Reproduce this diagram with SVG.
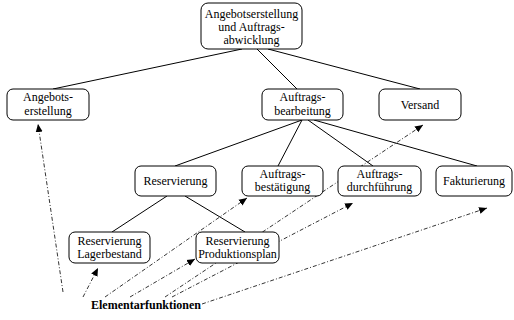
<svg xmlns="http://www.w3.org/2000/svg" width="514" height="320" viewBox="0 0 514 320" font-family="Liberation Serif, Times New Roman, serif">
<defs>
<style>
.box{fill:#fff;stroke:#000;stroke-width:1}
.t{font-size:12px;text-anchor:middle;fill:#000}
.e{stroke:#000;stroke-width:1;fill:none}
.d{stroke:#000;stroke-width:0.8;fill:none;stroke-dasharray:4 2 1 2;marker-end:url(#ah)}
</style>
<marker id="ah" markerUnits="userSpaceOnUse" markerWidth="9" markerHeight="8" refX="8" refY="4" orient="auto">
<path d="M0,0.5 L8,4 L0,7.5 Z" fill="#000"/>
</marker>
</defs>
<g id="connectors">
<line class="e" x1="242" y1="49" x2="53" y2="89"/>
<line class="e" x1="257" y1="49" x2="297" y2="89"/>
<line class="e" x1="268" y1="49" x2="420" y2="89"/>
<line class="e" x1="302" y1="120" x2="175" y2="166"/>
<line class="e" x1="302" y1="120" x2="278" y2="166"/>
<line class="e" x1="308" y1="120" x2="373" y2="166"/>
<line class="e" x1="314" y1="120" x2="477" y2="166"/>
<line class="e" x1="167" y1="196" x2="112" y2="232"/>
<line class="e" x1="185" y1="196" x2="245" y2="232"/>
<line class="d" x1="63" y1="292" x2="38" y2="124"/>
<line class="d" x1="83" y1="297" x2="98" y2="268"/>
<line class="d" x1="105" y1="297" x2="247" y2="198"/>
<line class="d" x1="130" y1="297" x2="195" y2="259"/>
<line class="d" x1="165" y1="297" x2="423" y2="125"/>
<line class="d" x1="172" y1="297" x2="353" y2="203"/>
<line class="d" x1="202" y1="304" x2="487" y2="208"/>
</g>
<g id="n-top"><rect class="box" x="201" y="3" width="101" height="46" rx="7"/>
<text class="t" x="251.5" y="18">Angebotserstellung</text><text class="t" x="251.5" y="31">und Auftrags-</text><text class="t" x="251.5" y="44">abwicklung</text></g>
<g id="n-angebot"><rect class="box" x="7" y="89" width="82" height="31" rx="6"/>
<text class="t" x="48" y="101">Angebots-</text><text class="t" x="48" y="115">erstellung</text></g>
<g id="n-auftrag"><rect class="box" x="262" y="89" width="81" height="31" rx="6"/>
<text class="t" x="302.5" y="101">Auftrags-</text><text class="t" x="302.5" y="115">bearbeitung</text></g>
<g id="n-versand"><rect class="box" x="379" y="89" width="82" height="31" rx="6"/>
<text class="t" x="420" y="109">Versand</text></g>
<g id="n-reserv"><rect class="box" x="135" y="166" width="81" height="30" rx="6"/>
<text class="t" x="175.5" y="185">Reservierung</text></g>
<g id="n-best"><rect class="box" x="242" y="166" width="81" height="30" rx="6"/>
<text class="t" x="282.5" y="178">Auftrags-</text><text class="t" x="282.5" y="191">bestätigung</text></g>
<g id="n-durch"><rect class="box" x="338" y="166" width="83" height="30" rx="6"/>
<text class="t" x="379.5" y="178">Auftrags-</text><text class="t" x="379.5" y="191">durchführung</text></g>
<g id="n-fakt"><rect class="box" x="436" y="166" width="76" height="30" rx="6"/>
<text class="t" x="474" y="185">Fakturierung</text></g>
<g id="n-lager"><rect class="box" x="69" y="232" width="81" height="31" rx="6"/>
<text class="t" x="109.5" y="245">Reservierung</text><text class="t" x="109.5" y="258">Lagerbestand</text></g>
<g id="n-prod"><rect class="box" x="196" y="232" width="83" height="31" rx="6"/>
<text class="t" x="237.5" y="245">Reservierung</text><text class="t" x="237.5" y="258">Produktionsplan</text></g>
<g id="n-label"><text class="t" x="146" y="309" font-weight="bold">Elementarfunktionen</text></g>
</svg>
